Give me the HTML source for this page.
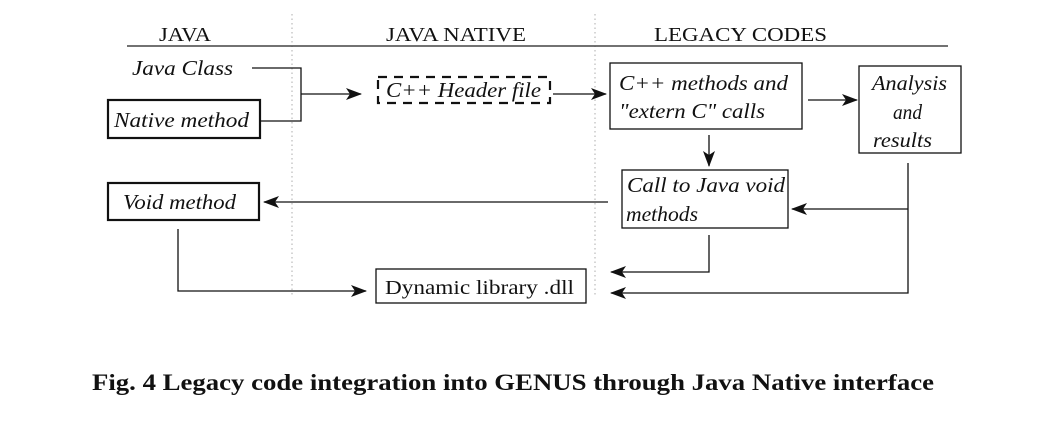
<!DOCTYPE html>
<html><head><meta charset="utf-8"><style>
html,body{margin:0;padding:0;background:#fff;width:1057px;height:425px;overflow:hidden}
svg{display:block}
text{font-family:"Liberation Serif","Times New Roman",serif;fill:#111}
.i{font-style:italic;font-size:21px}
.h{font-size:20px}
</style></head><body>
<svg width="1057" height="425" viewBox="0 0 1057 425" xmlns="http://www.w3.org/2000/svg">
<defs>
<marker id="a" markerWidth="16" markerHeight="12" refX="15" refY="6" orient="auto" markerUnits="userSpaceOnUse">
<path d="M0,0 L16,6 L0,12 L4,6 Z" fill="#111"/></marker>
</defs>
<g stroke="#bbb" stroke-width="1.2" stroke-dasharray="1.5,3">
<line x1="292" y1="14" x2="292" y2="296"/>
<line x1="595" y1="14" x2="595" y2="296"/>
</g>
<line x1="127" y1="46" x2="948" y2="46" stroke="#444" stroke-width="1.5"/>
<text class="h" x="159" y="41" textLength="52" lengthAdjust="spacingAndGlyphs">JAVA</text>
<text class="h" x="386" y="41" textLength="140" lengthAdjust="spacingAndGlyphs">JAVA NATIVE</text>
<text class="h" x="654" y="41" textLength="173" lengthAdjust="spacingAndGlyphs">LEGACY CODES</text>

<g fill="none" stroke="#111" stroke-width="1.3">
<rect x="108" y="100" width="152" height="38" stroke-width="2.2"/>
<rect x="108" y="183" width="151" height="37" stroke-width="2.2"/>
<rect x="378" y="77" width="172" height="26" stroke-width="2.2" stroke-dasharray="9,7"/>
<rect x="610" y="63" width="192" height="66"/>
<rect x="859" y="66" width="102" height="87"/>
<rect x="622" y="170" width="166" height="58"/>
<rect x="376" y="269" width="210" height="34"/>
<polyline points="252,68 301,68 301,121 260,121"/>
<line x1="301" y1="94" x2="361" y2="94" marker-end="url(#a)"/>
<line x1="553" y1="94" x2="606" y2="94" marker-end="url(#a)"/>
<line x1="808" y1="100" x2="857" y2="100" marker-end="url(#a)"/>
<line x1="709" y1="135" x2="709" y2="166" marker-end="url(#a)"/>
<line x1="608" y1="202" x2="264" y2="202" marker-end="url(#a)"/>
<polyline points="908,163 908,293 611,293" marker-end="url(#a)"/>
<line x1="908" y1="209" x2="792" y2="209" marker-end="url(#a)"/>
<polyline points="709,235 709,272 611,272" marker-end="url(#a)"/>
<polyline points="178,229 178,291 366,291" marker-end="url(#a)"/>
</g>

<text class="i" x="132" y="75" textLength="101" lengthAdjust="spacingAndGlyphs">Java Class</text>
<text class="i" x="114" y="127" textLength="135" lengthAdjust="spacingAndGlyphs">Native method</text>
<text class="i" x="123" y="209" textLength="113" lengthAdjust="spacingAndGlyphs">Void method</text>
<text class="i" x="386" y="97" textLength="155" lengthAdjust="spacingAndGlyphs">C++ Header file</text>
<text class="i" x="619" y="90" textLength="169" lengthAdjust="spacingAndGlyphs">C++ methods and</text>
<text class="i" x="619" y="118" textLength="146" lengthAdjust="spacingAndGlyphs">"extern C" calls</text>
<text class="i" x="872" y="90" textLength="75" lengthAdjust="spacingAndGlyphs">Analysis</text>
<text class="i" x="893" y="119" textLength="29" lengthAdjust="spacingAndGlyphs">and</text>
<text class="i" x="873" y="147" textLength="59" lengthAdjust="spacingAndGlyphs">results</text>
<text class="i" x="627" y="192" textLength="158" lengthAdjust="spacingAndGlyphs">Call to Java void</text>
<text class="i" x="626" y="221" textLength="72" lengthAdjust="spacingAndGlyphs">methods</text>
<text x="385" y="294" font-size="20" textLength="189" lengthAdjust="spacingAndGlyphs">Dynamic library .dll</text>
<text x="92" y="390" font-size="23" font-weight="bold" textLength="842" lengthAdjust="spacingAndGlyphs">Fig. 4  Legacy code integration into GENUS through Java Native interface</text>
</svg>
</body></html>
